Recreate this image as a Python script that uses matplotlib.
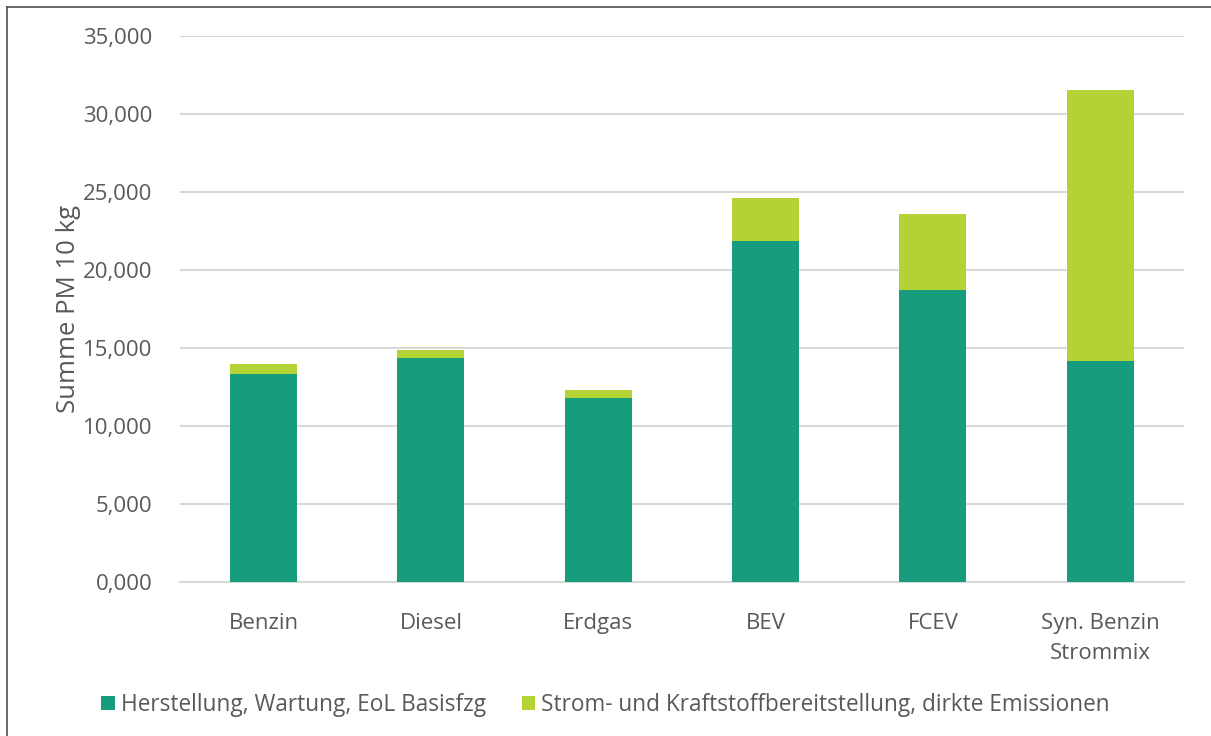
import matplotlib
matplotlib.use("Agg")
import matplotlib.pyplot as plt
import numpy as np
from matplotlib.lines import Line2D
from matplotlib.ticker import FuncFormatter

plt.rcParams["font.family"] = ["Open Sans", "DejaVu Sans"]

# ── Data ──────────────────────────────────────────────────────────────────────
categories = ["Benzin", "Diesel", "Erdgas", "BEV", "FCEV", "Syn. Benzin\nStrommix"]
herstellung = [13350, 14340, 11780, 21840, 18700, 14190]
strom_kraftstoff = [620, 530, 530, 2760, 4900, 17350]
series_names = ["Herstellung, Wartung, EoL Basisfzg",
                "Strom- und Kraftstoffbereitstellung, dirkte Emissionen"]
colors = ["#189C7E", "#B3D334"]
yticks = [0, 5000, 10000, 15000, 20000, 25000, 30000, 35000]

TEXT = "#595959"

fig = plt.figure(figsize=(12.11, 7.36), dpi=100)
ax = fig.add_axes([0.1486, 0.2092, 0.829, 0.7418])

x = np.arange(len(categories))
ax.bar(x, herstellung, width=0.4, color=colors[0], label=series_names[0], zorder=3)
ax.bar(x, strom_kraftstoff, width=0.4, bottom=herstellung, color=colors[1],
       label=series_names[1], zorder=3)

ax.set_xlim(-0.5, len(categories) - 0.5)
ax.set_ylim(0, 35000)
ax.set_yticks(yticks)
ax.yaxis.set_major_formatter(FuncFormatter(lambda v, p: f"{v/1000:.3f}".replace(".", ",")))
ax.set_xticks(x)
ax.set_xticklabels(categories, color=TEXT, fontsize=16, linespacing=1.6)
ax.tick_params(axis="y", colors=TEXT, labelsize=16, length=0, pad=20)
ax.tick_params(axis="x", length=0, pad=22)
ax.grid(axis="y", color="#D9D9D9", linewidth=1.5, zorder=0)
for s in ["top", "right", "left"]:
    ax.spines[s].set_visible(False)
ax.spines["bottom"].set_color("#D9D9D9")
ax.spines["bottom"].set_linewidth(1.5)

ax.set_ylabel("Summe PM 10 kg", color=TEXT, fontsize=18.5, labelpad=1)

leg = fig.legend(loc="center", bbox_to_anchor=(0.5, 0.042), ncol=2, frameon=False,
                 fontsize=16.3, handlelength=0.6, handleheight=0.6, handletextpad=0.25,
                 columnspacing=1.6)
for t in leg.get_texts():
    t.set_color(TEXT)

# only the left and top edges of the outer frame are visible
fx = 6.5 / 1211
fy = 1 - 6.5 / 736
fig.add_artist(Line2D([fx, fx], [0, fy], transform=fig.transFigure, color="#505050", lw=1.2))
fig.add_artist(Line2D([fx, 1], [fy, fy], transform=fig.transFigure, color="#505050", lw=1.2))

fig.savefig("out.png", dpi=100)
